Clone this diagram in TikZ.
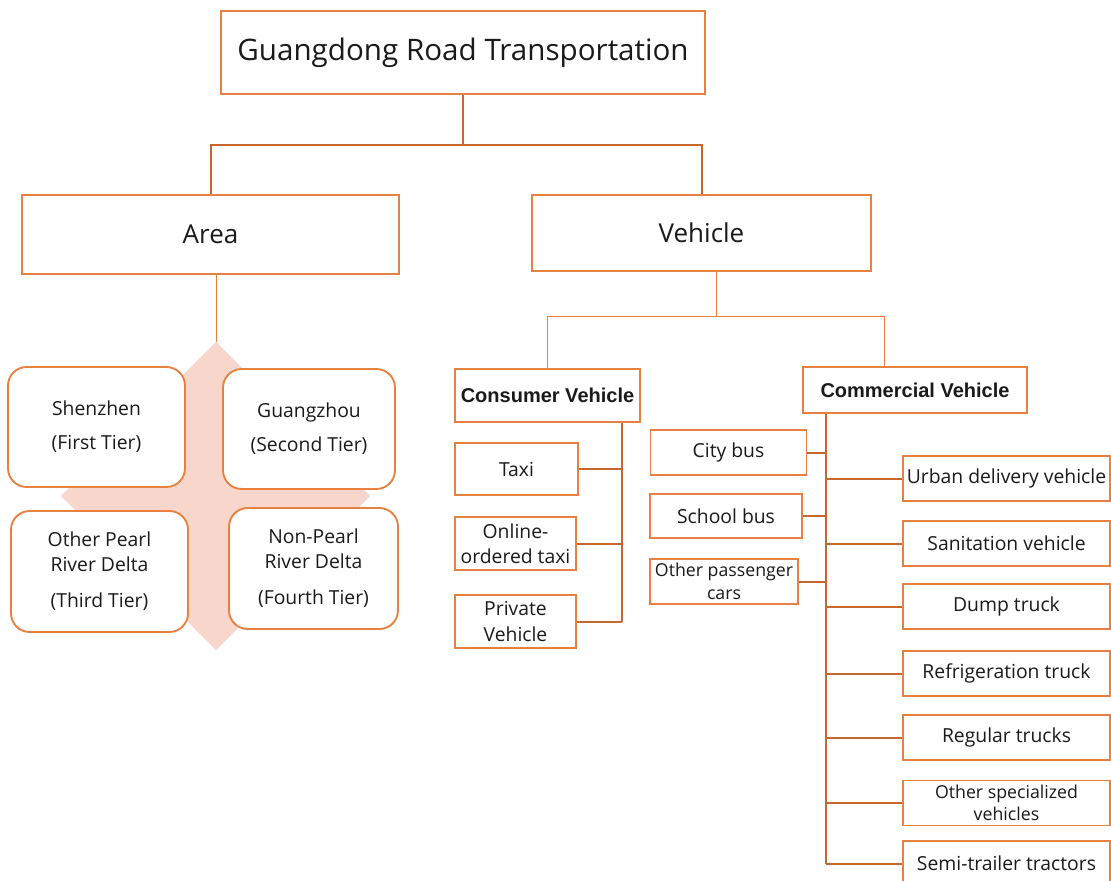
\documentclass[tikz,border=0pt]{standalone}
\usepackage{fontspec}
\setmainfont{Open Sans}
\newfontfamily\arialf{Liberation Sans}
\definecolor{orng}{HTML}{E8803F}
\definecolor{dark}{HTML}{C8672C}
\definecolor{pinkfill}{HTML}{F8D6CB}
\definecolor{txt}{HTML}{1A1A1A}
\newcommand\fsz[2]{\fontsize{#1}{#2}\selectfont}
\begin{document}
\begin{tikzpicture}[x=0.75pt,y=-0.75pt,
  rect/.style 2 args={draw=orng, line width=1.4pt, fill=white, inner sep=0pt,
    minimum width=#1*0.75pt, minimum height=#2*0.75pt, align=center, text=txt},
  rnd/.style 2 args={rect={#1}{#2}, rounded corners=14pt},
  conn/.style={draw=dark, line width=1.5pt},
  thinl/.style={draw=orng, line width=0.75pt},
  small/.style={font=\fsz{14.5}{19}},
  tiny/.style={font=\fsz{13.3}{17}},
  boldt/.style={font=\arialf\bfseries\fsz{15}{18}},
  rbox/.style={rect={207}{45}, small}]
\useasboundingbox (0,0) rectangle (1111,881);

% diamond background
\path[fill=pinkfill] (216,342) -- (370,496) -- (216,650) -- (61,496) -- cycle;

% top level
\node[rect={484}{83}, line width=1.1pt, font=\fsz{22.2}{26}] (title) at (463,52.5) {Guangdong Road Transportation};
\node[rect={377}{79}, font=\fsz{19.5}{24}] (area) at (210.5,234.5) {Area};
\node[rect={339}{76}, font=\fsz{19.5}{24}] (vehicle) at (701.5,233) {Vehicle};

\coordinate (j1) at (463,145);
\draw[conn] (title.south) -- (j1);
\draw[conn] (area.north) |- (j1) -| (vehicle.north);

% area part
\coordinate (dtop) at (216,342);
\draw[thinl] (area.south -| dtop) -- (dtop);

\node[rnd={177}{120}, small] (sz) at (96.5,427) {Shenzhen\\[6.5pt](First Tier)};
\node[rnd={172}{120}, small] (gz) at (309,429) {Guangzhou\\[6.5pt](Second Tier)};
\node[rnd={177}{121}, small] (op) at (99.5,571.5) {Other Pearl\\River Delta\\[8pt](Third Tier)};
\node[rnd={169}{121}, small] (np) at (313.5,568.5) {Non-Pearl\\River Delta\\[8pt](Fourth Tier)};

% vehicle part
\coordinate (j2) at (716,316);
\coordinate (j3) at (884,316);
\node[rect={185}{53}, boldt] (cons) at (547.5,395.5) {Consumer Vehicle};
\node[rect={224}{46}, boldt] (comm) at (915,390) {Commercial Vehicle};
\draw[thinl] (vehicle.south -| j2) -- (j2);
\draw[thinl] (cons.north) |- (j3) -- (j3 |- comm.north);

% consumer children
\node[rect={123}{52}, small] (taxi) at (516.5,469) {Taxi};
\node[rect={121}{53}, small] (online) at (515.5,543.5) {Online-\\ordered taxi};
\node[rect={121}{53}, small] (private) at (515.5,621.5) {Private\\Vehicle};
\coordinate (cs) at (622,621.5);
\draw[conn] (cons.south -| cs) -- (cs);
\draw[conn] (taxi.east) -- (taxi.east -| cs);
\draw[conn] (online.east) -- (online.east -| cs);
\draw[conn] (private.east) -- (cs);

% commercial children
\node[rect={156}{45}, small] (city) at (728.5,452.5) {City bus};
\node[rect={152}{44}, small] (school) at (726,516) {School bus};
\node[rect={148}{45}, tiny] (otherp) at (724,581.5) {Other passenger\\cars};
\node[rbox] (urban) at (1006.5,478.5) {Urban delivery vehicle};
\node[rbox] (sanit) at (1006.5,543.5) {Sanitation vehicle};
\node[rbox] (dump) at (1006.5,606.5) {Dump truck};
\node[rbox] (refr) at (1006.5,673.5) {Refrigeration truck};
\node[rbox] (reg) at (1006.5,737.5) {Regular trucks};
\node[rbox, tiny] (spec) at (1006.5,803) {Other specialized\\vehicles};
\node[rbox] (semi) at (1006.5,863.5) {Semi-trailer tractors};

\coordinate (ms) at (826,863.5);
\draw[conn] (comm.south -| ms) -- (ms);
\foreach \n in {city,school,otherp}
  \draw[conn] (\n.east) -- (\n.east -| ms);
\foreach \n in {urban,sanit,dump,refr,reg,spec,semi}
  \draw[conn] (\n.west) -- (\n.west -| ms);
\end{tikzpicture}
\end{document}
